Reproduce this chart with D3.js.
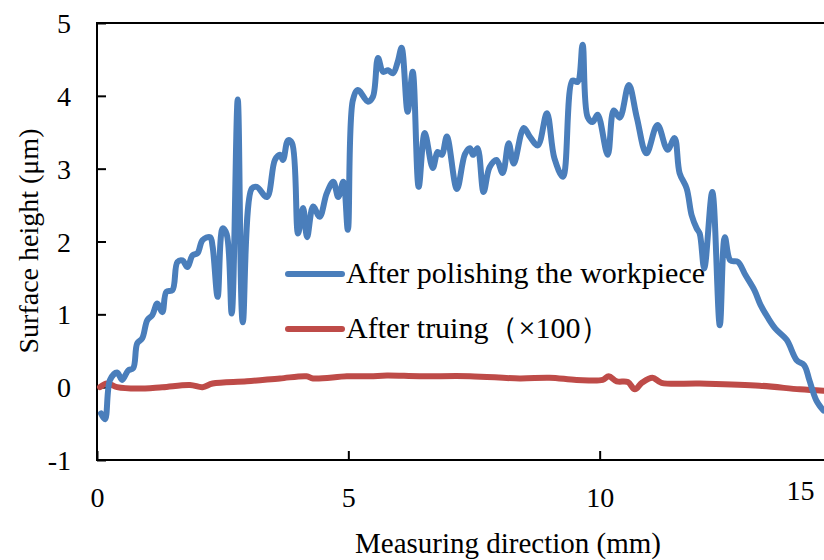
<!DOCTYPE html>
<html>
<head>
<meta charset="utf-8">
<script src="https://cdn.jsdelivr.net/npm/d3@7"></script>
<style>
  body { margin: 0; background: #fff; }
  svg text { font-family: "Liberation Serif", "DejaVu Serif", serif; fill: #000; }
</style>
</head>
<body>
<svg id="chart" width="824" height="560"></svg>
<script>
// measured surface after polishing (x in mm, height in um)
const polishX = [0.08,0.16,0.26,0.4,0.5,0.62,0.72,0.8,0.9,1.0,1.1,1.2,1.3,1.38,1.5,1.6,1.7,1.8,1.9,2.0,2.1,2.25,2.3,2.4,2.5,2.58,2.68,2.8,2.9,3.08,3.18,3.38,3.54,3.64,3.7,3.8,3.88,4.0,4.1,4.18,4.3,4.43,4.57,4.7,4.8,4.9,4.99,5.09,5.19,5.39,5.49,5.59,5.69,5.79,5.89,5.98,6.06,6.18,6.28,6.4,6.52,6.68,6.78,6.86,6.96,7.16,7.32,7.42,7.48,7.57,7.69,7.81,7.95,8.07,8.19,8.29,8.49,8.61,8.77,8.95,9.1,9.27,9.46,9.56,9.66,9.76,9.86,9.96,10.16,10.28,10.4,10.58,10.74,10.93,11.15,11.35,11.49,11.59,11.73,11.83,11.93,11.99,12.08,12.24,12.39,12.49,12.6,12.75,12.9,13.08,13.2,13.35,13.5,13.72,13.92,14.07,14.17,14.31,14.45];
const polishY = [-0.36,-0.44,0.1,0.2,0.1,0.23,0.26,0.6,0.67,0.92,0.99,1.15,1.03,1.31,1.33,1.72,1.74,1.65,1.81,1.84,2.02,2.06,1.93,1.24,2.18,2.1,1.01,3.95,0.89,2.73,2.75,2.61,3.12,3.19,3.12,3.39,3.35,2.11,2.46,2.06,2.48,2.34,2.66,2.82,2.61,2.82,2.16,3.94,4.08,3.92,3.99,4.52,4.33,4.35,4.31,4.46,4.66,3.78,4.33,2.75,3.49,3.01,3.23,3.19,3.44,2.72,3.2,3.28,3.19,3.28,2.68,3.02,3.12,2.94,3.35,3.07,3.56,3.44,3.32,3.76,3.14,2.89,4.21,4.19,4.7,3.71,3.64,3.74,3.19,3.8,3.7,4.15,3.7,3.21,3.6,3.26,3.42,2.94,2.73,2.36,2.18,2.11,1.63,2.68,0.85,2.06,1.74,1.72,1.54,1.33,1.13,0.95,0.8,0.65,0.37,0.3,0.1,-0.18,-0.32];

// surface after truing, scaled x100
const truingX = [0.06,0.2,0.4,0.8,1.3,1.85,2.1,2.3,2.98,3.64,4.17,4.3,4.97,5.43,5.77,6.42,7.42,8.41,9.0,9.54,10.06,10.18,10.34,10.56,10.7,10.84,11.05,11.23,11.99,13.18,13.98,14.45];
const truingY = [0.0,0.05,0.0,-0.02,0.0,0.03,0.0,0.05,0.08,0.12,0.15,0.12,0.15,0.15,0.16,0.15,0.15,0.12,0.13,0.1,0.1,0.15,0.08,0.07,-0.03,0.06,0.13,0.06,0.05,0.02,-0.03,-0.05];

const xTicks = [0, 5, 10, 15];
const yTicks = [-1, 0, 1, 2, 3, 4, 5];
const seriesNames = ["After polishing the workpiece", "After truing（×100）"];
const seriesColors = ["#4a7ebb", "#be4b48"];

const svg = d3.select("#chart");
const W = 824;
const plotLeft = 97, plotTop = 23, plotRight = 851, plotBottom = 460;

const x = d3.scaleLinear().domain([0, 15]).range([plotLeft, plotRight]);
const y = d3.scaleLinear().domain([-1, 5]).range([plotBottom, plotTop]);

// plot area frame (right edge falls outside the picture)
svg.append("rect")
  .attr("x", plotLeft).attr("y", plotTop)
  .attr("width", plotRight - plotLeft).attr("height", plotBottom - plotTop)
  .attr("fill", "none").attr("stroke", "#000").attr("stroke-width", 2);

// y axis
const yAxis = svg.append("g")
  .attr("transform", "translate(" + plotLeft + ",0)")
  .call(d3.axisRight(y).tickValues(yTicks).tickSize(9).tickFormat(d => String(d)));
yAxis.select(".domain").remove();
yAxis.selectAll("line").attr("stroke", "#000").attr("stroke-width", 2);
yAxis.selectAll("text")
  .attr("x", -26).attr("dy", "0.34em")
  .attr("text-anchor", "end")
  .style("font-size", "28px");

// x axis
const xAxis = svg.append("g")
  .attr("transform", "translate(0," + plotBottom + ")")
  .call(d3.axisTop(x).tickValues(xTicks).tickSize(9).tickFormat(d => String(d)));
xAxis.select(".domain").remove();
xAxis.selectAll("line").attr("stroke", "#000").attr("stroke-width", 2);
xAxis.selectAll("text")
  .attr("y", 47).attr("dy", 0)
  .attr("text-anchor", "middle")
  .style("font-size", "28px");
// keep the last label inside the picture
xAxis.selectAll(".tick").each(function () {
  const t = d3.select(this);
  const tx = x(t.datum());
  const txt = t.select("text");
  const w = txt.node().getComputedTextLength();
  if (tx + w / 2 > W - 10) {
    txt.attr("x", (W - 10 - w / 2) - tx).attr("y", 40);
  }
});

// axis titles
svg.append("text")
  .attr("x", 508).attr("y", 553)
  .attr("text-anchor", "middle")
  .style("font-size", "29px")
  .text("Measuring direction (mm)");

svg.append("text")
  .attr("transform", "translate(38,241) rotate(-90)")
  .attr("text-anchor", "middle")
  .style("font-size", "28px")
  .text("Surface height (μm)");

// series
const line = d3.line()
  .x(d => x(d[0]))
  .y(d => y(d[1]))
  .curve(d3.curveCatmullRom.alpha(0.5));

const series = [
  d3.zip(polishX, polishY),
  d3.zip(truingX, truingY)
];

// legend
const legend = svg.append("g");
seriesNames.forEach((name, i) => {
  const ly = 274 + i * 55;
  legend.append("line")
    .attr("x1", 288).attr("x2", 342)
    .attr("y1", ly).attr("y2", ly)
    .attr("stroke", seriesColors[i]).attr("stroke-width", 6)
    .attr("stroke-linecap", "round");
  legend.append("text")
    .attr("x", 346).attr("y", ly + 9)
    .style("font-size", "30px")
    .text(name);
});

// draw truing first, polishing on top
[1, 0].forEach(i => {
  svg.append("path")
    .datum(series[i])
    .attr("d", line)
    .attr("fill", "none")
    .attr("stroke", seriesColors[i])
    .attr("stroke-width", 6)
    .attr("stroke-linejoin", "round")
    .attr("stroke-linecap", "round");
});
</script>
</body>
</html>
